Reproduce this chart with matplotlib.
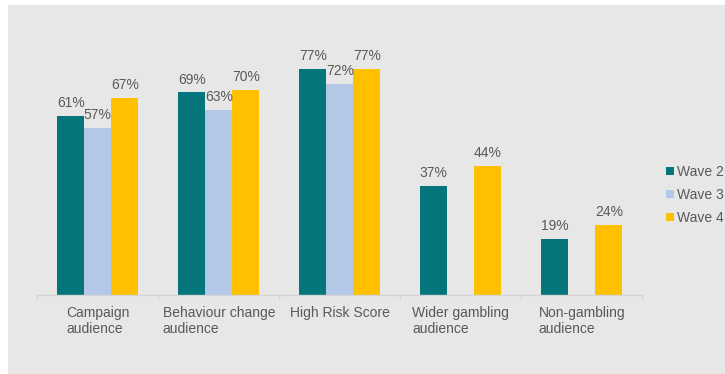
import numpy as np
import matplotlib

matplotlib.use("Agg")
import matplotlib.pyplot as plt
from matplotlib.patches import Rectangle

# Share of each audience, by survey wave (%)
categories = ["Campaign\naudience", "Behaviour change\naudience", "High Risk Score",
              "Wider gambling\naudience", "Non-gambling\naudience"]
wave2 = [61, 69, 77, 37, 19]
wave3 = [57, 63, 72, np.nan, np.nan]
wave4 = [67, 70, 77, 44, 24]
series_names = ["Wave 2", "Wave 3", "Wave 4"]
colors = ["#04767B", "#B4C7E7", "#FFC000"]

TEXT = "#595959"
plt.rcParams["font.family"] = ["Liberation Sans", "DejaVu Sans"]

W, H = 725, 374
fig = plt.figure(figsize=(W / 100, H / 100), dpi=100)
fig.patch.set_facecolor("white")
# grey panel behind the chart, leaving a thin white margin top and left
fig.patches.append(Rectangle((8 / W, 0), 1, 1 - 5 / H, transform=fig.transFigure,
                             facecolor="#E7E7E7", edgecolor="none", zorder=-10))

ax = fig.add_axes([37.3 / W, 79 / H, 605 / W, 293.5 / H])
ax.set_facecolor("none")

x = np.arange(len(categories))
width = 0.223
for i, (vals, name, col) in enumerate(zip([wave2, wave3, wave4], series_names, colors)):
    pos = x + (i - 1) * width
    ax.bar(pos, vals, width, color=col, label=name, zorder=2)
    for xp, v in zip(pos, vals):
        if np.isnan(v):
            continue
        ax.annotate(f"{v:.0f}%", (xp, v), xytext=(0, 4.3), textcoords="offset points",
                    ha="center", va="bottom", fontsize=10, color=TEXT)

ax.set_xlim(-0.5, len(categories) - 0.5)
ax.set_ylim(0, 100)
ax.set_yticks([])
for side in ["top", "right", "left"]:
    ax.spines[side].set_visible(False)
ax.spines["bottom"].set_color("#D4D4D4")
ax.spines["bottom"].set_linewidth(1.0)

ax.set_xticks(x)
ax.set_xticklabels(categories, fontsize=10, color=TEXT, linespacing=1.15,
                   multialignment="left")
ax.tick_params(axis="x", which="major", length=0, pad=8)
ax.set_xticks(np.arange(-0.5, len(categories)), minor=True)
ax.tick_params(axis="x", which="minor", length=3, color="#D4D4D4", width=1.0)

ax.legend(loc="upper left", bbox_to_anchor=(666 / W, 1 - 165 / H),
          bbox_transform=fig.transFigure, frameon=False, fontsize=10,
          handlelength=0.58, handleheight=0.58, handletextpad=0.2,
          labelspacing=0.65, borderpad=0, borderaxespad=0, labelcolor=TEXT)

fig.savefig("out.png", dpi=100)
